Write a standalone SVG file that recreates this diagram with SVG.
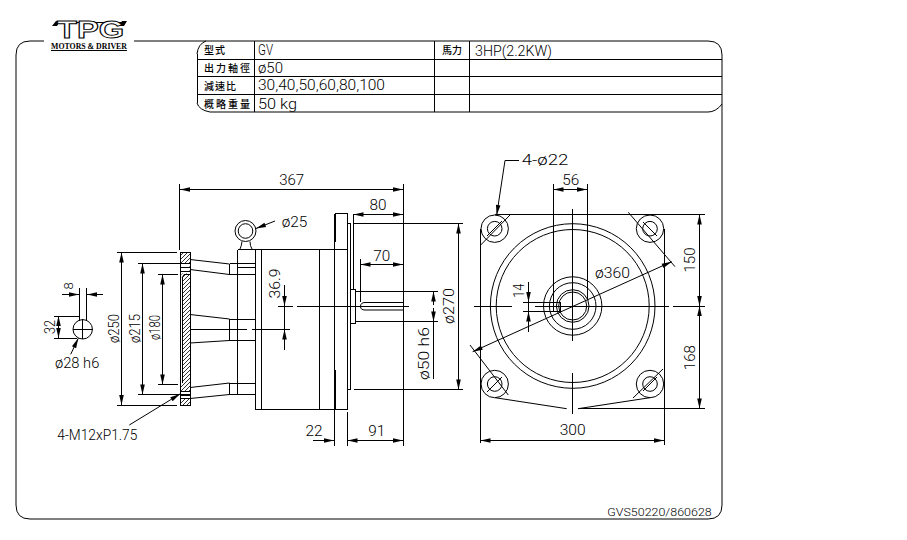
<svg xmlns="http://www.w3.org/2000/svg" width="907" height="540" viewBox="0 0 907 540">
<style>
.l{fill:none;stroke:#000;stroke-width:1;shape-rendering:crispEdges}
.c{fill:none;stroke:#000;stroke-width:1}
.t{font-family:Roboto,"Liberation Sans",Arial,sans-serif;font-weight:300;font-size:15px;fill:#000}
.m{text-anchor:middle}
.z{font-family:"Noto Sans CJK TC","Noto Sans CJK SC",sans-serif;font-size:10px;font-weight:500;fill:#000}
.d{fill:none;stroke:#000;stroke-width:1;marker-start:url(#a);marker-end:url(#a)}
.e{fill:none;stroke:#000;stroke-width:1;marker-end:url(#a)}
</style>
<defs>
<marker id="a" markerUnits="userSpaceOnUse" markerWidth="12" markerHeight="6" refX="11" refY="3" orient="auto-start-reverse"><path d="M11,3 L1,0.7 L1,5.3 z" fill="#000"/></marker>
<pattern id="hatch" patternUnits="userSpaceOnUse" width="4" height="4"><path d="M-1,5 L5,-1 M-1,1 L1,-1 M3,5 L5,3" stroke="#000" stroke-width="0.8"/></pattern>
</defs>
<rect width="907" height="540" fill="#fff"/>
<g id="frame">
<path class="c" d="M134,41 H708 Q722,41 722,55 V505 Q722,519 708,519 H30 Q16,519 16,505 V55 Q16,41 30,41 H44"/>
</g>
<g id="logo">
<path d="M52,26 L56,21 H60 L57,26 z M119,26 L122,21 H127 L124,26 z" fill="#000"/>
<path class="l" d="M58,22.5 H122"/>
<text x="57" y="38" textLength="67" lengthAdjust="spacingAndGlyphs" style="font-family:'Liberation Sans',sans-serif;font-size:23px;font-weight:700;fill:#fff;stroke:#000;stroke-width:0.9">TPG</text>
<text x="51" y="49" textLength="76" lengthAdjust="spacingAndGlyphs" style="font-family:'Liberation Serif',serif;font-size:8px;font-weight:700;fill:#000">MOTORS &amp; DRIVER</text>
<path class="l" d="M51,50.5 H127"/>
</g>
<g id="title-block">
<path class="c" d="M197,54 Q198,44 206,41 M197,103 Q199,110 210,112 H708 Q716,112 722,104"/>
<path class="l" d="M197,59.5 H722 M197,76.5 H722 M197,94.5 H722 M197,54 V103 M254.5,41 V112 M434.5,41 V112 M469.5,41 V112"/>
<text class="z" x="204" y="54" textLength="21" lengthAdjust="spacing">型式</text>
<text class="z" x="204" y="72" textLength="46" lengthAdjust="spacing">出力軸徑</text>
<text class="z" x="204" y="90" textLength="32" lengthAdjust="spacing">減速比</text>
<text class="z" x="204" y="108" textLength="46" lengthAdjust="spacing">概略重量</text>
<text class="z" x="442" y="54" textLength="20" lengthAdjust="spacing">馬力</text>
<text class="t" x="258" y="55" textLength="15" lengthAdjust="spacingAndGlyphs">GV</text>
<text class="t" x="258" y="73" textLength="25" lengthAdjust="spacingAndGlyphs">ø50</text>
<text class="t" x="258" y="90" textLength="127" lengthAdjust="spacingAndGlyphs">30,40,50,60,80,100</text>
<text class="t" x="258" y="109" textLength="39" lengthAdjust="spacingAndGlyphs">50  kg</text>
<text class="t" x="475" y="56" textLength="77" lengthAdjust="spacingAndGlyphs">3HP(2.2KW)</text>
</g>
<g id="side-view">
<rect x="180" y="252.5" width="10" height="152.5" fill="url(#hatch)" stroke="none"/>
<rect x="180.5" y="263.5" width="9" height="10" fill="#fff" stroke="none"/>
<rect x="180.5" y="391.5" width="9" height="7" fill="#fff" stroke="none"/>
<rect x="180" y="274.5" width="2" height="109" fill="#fff" stroke="none"/>
<path class="l" d="M180,252.5 H190 V405 H180 V252.5 M180,263.5 H190 M180,267.5 H190 M180,271 H190 M184,274.5 H190 M182,278 V383 M180,391.5 H190 M180,395.5 H190 M180,398.5 H190"/>
<path class="c" d="M182,278 L184,274.5"/>
<path class="c" d="M190,259.5 L229.5,264 M190,269.5 L229.5,274.5 M190,314.5 L229.5,319 M190,343 L229.5,340.5 M190,387.5 L229.5,383 M190,398.5 L229.5,394.5"/>
<path class="l" d="M229.5,264 V274.5 M229.5,319 V340.5 M229.5,383 V394.5 M229.5,263.5 H255 M229.5,274.5 H255 M229.5,319 H255 M229.5,340.5 H255 M229.5,383 H255 M229.5,394.5 H255 M237.5,267.5 H255"/>
<path class="l" d="M237.5,249.5 H347.5 M237.5,249.5 V394.5 M255.5,249.5 V409.5 H347.5 M261.5,249.5 V409.5 M319.5,249.5 V409.5"/>
<path class="l" d="M334.5,213.5 H347.5 V409.5 M334.5,213.5 V446 M335.5,213.5 V242 M335.5,370 V409.5"/>
<path class="l" d="M347.5,223.5 H350.5 V389.5 H347.5 M350.5,289.5 H355.5 V323.5 H350.5"/>
<path class="l" d="M355.5,291.5 H438 M355.5,321.5 H438"/>
<path class="c" d="M403.5,310 H365 Q360.5,310 360.5,306.5 Q360.5,302.5 365,302.5 H403.5"/>
<circle class="c" cx="245.5" cy="231" r="10.5"/>
<circle class="c" cx="245.5" cy="231" r="7.3"/>
<path class="c" d="M242,241.5 Q241.5,246 240,249 M250,241.5 Q250,246 252,249"/>
<path class="l" d="M190,329.5 H247 M252,329.5 H290 M278,306.5 H293 M297,306.5 H409"/>
<circle class="c" cx="82.7" cy="329.3" r="9.7"/>
<path class="l" d="M79.5,288 V320.5 M86.5,288 V320.5 M73,329.5 H93 M82.5,319 V339"/>
</g>
<g id="front-view">
<path class="l" d="M495,214.5 H705 M480.5,229 V443 M664.5,229 V445 M578,408.5 H705"/>
<path class="c" d="M495,397.7 L566.7,408.7 M578,408.7 L650,397.7 M480.7,245 L510,215 M628.3,212.3 L675,266.7 M470,345 L508.3,395 M633,398 L663,369 M487,236 L502,221 M643,222 L657,236 M487,392 L502,377 M643,391 L657,377"/>
<circle class="c" cx="494.7" cy="228.7" r="13.7"/><circle class="c" cx="494.7" cy="228.7" r="7.3"/>
<circle class="c" cx="650" cy="228.7" r="13.7"/><circle class="c" cx="650" cy="228.7" r="7.3"/>
<circle class="c" cx="494.7" cy="384" r="13.7"/><circle class="c" cx="494.7" cy="384" r="7.3"/>
<circle class="c" cx="650" cy="384" r="13.7"/><circle class="c" cx="650" cy="384" r="7.3"/>
<circle class="c" cx="572.7" cy="306" r="82.3"/><circle class="c" cx="572.7" cy="306" r="76.5"/>
<circle class="c" cx="572.7" cy="306" r="29.2"/><circle class="c" cx="572.7" cy="306" r="23.3"/>
<circle class="c" cx="572.7" cy="306" r="16.3"/><circle class="c" cx="572.7" cy="306" r="14"/>
<rect class="l" x="553.5" y="302.5" width="7" height="9"/>
<path class="l" d="M572.5,209 V341 M572.5,372.7 V414 M474,306.5 H511.7 M535,306.5 H669 M672.7,306.5 H705"/>
</g>
<g id="connectors">
<path class="l" d="M179.5,184 V250 M403.5,184 V446 M117,252.5 H177 M117,405 H177 M138,263.5 H190 M138,394.5 H190 M158,274.5 H178 M158,384.5 H178 M353.5,214 V289 M353.5,223.5 H463 M353.5,389.5 H463 M360.5,259 V302 M347.5,412 V446 M54,316 H79 M54,338.5 H77 M553.5,184 V302 M587.5,184 V300 M523,302.5 H555 M523,311.5 H555 M505,160.5 H519 M284.5,285 V350 M433.5,321 V379 M528.5,281.7 V331.7"/>
<path class="d" d="M180,189.5 H403"/>
<path class="d" d="M353.5,214.5 H403"/>
<path class="d" d="M360.5,264.5 H403"/>
<path class="d" d="M458.5,223.5 V389.5"/>
<path class="d" d="M121.5,252.5 V405"/>
<path class="d" d="M142.5,263.5 V394.5"/>
<path class="d" d="M162.5,274.5 V384.5"/>
<path class="d" d="M553.5,189.5 H587"/>
<path class="d" d="M480.5,440.5 H664"/>
<path class="d" d="M699.5,214.5 V306"/>
<path class="d" d="M699.5,306 V408.5"/>
<path class="d" d="M472.7,351.7 L671.7,261.7"/>
<path class="d" d="M347.5,440.5 H403"/>
<path class="e" d="M313,440.5 H334"/>
<path class="e" d="M433.5,305 V291.5"/>
<path class="e" d="M433.5,308 V321.5"/>
<path class="e" d="M284.5,290 V306"/>
<path class="e" d="M284.5,345 V329.5"/>
<path class="e" d="M58.5,327 V316"/>
<path class="e" d="M58.5,327 V338"/>
<path class="e" d="M62,294.5 H79"/>
<path class="e" d="M103,294.5 H87"/>
<path class="e" d="M528.5,284 V302"/>
<path class="e" d="M528.5,329 V311.5"/>
<path class="e" d="M70.7,354.3 L78.3,338.3"/>
<path class="e" d="M129.3,425 L180,394"/>
<path class="e" d="M505,160.5 L496.7,215"/>
<path class="e" d="M275,221 L256,228.5"/>
</g>
<g id="labels">
<text class="t m" x="291.7" y="185" textLength="25" lengthAdjust="spacingAndGlyphs">367</text>
<text class="t m" x="378" y="210" textLength="17" lengthAdjust="spacingAndGlyphs">80</text>
<text class="t m" x="381.7" y="261" textLength="17" lengthAdjust="spacingAndGlyphs">70</text>
<text class="t" x="281.7" y="227" textLength="25.6" lengthAdjust="spacingAndGlyphs">ø25</text>
<text class="t" transform="translate(279.5,298.5) rotate(-90)" textLength="30" lengthAdjust="spacingAndGlyphs">36.9</text>
<text class="t m" x="314" y="436" textLength="17" lengthAdjust="spacingAndGlyphs">22</text>
<text class="t m" x="376.7" y="436" textLength="17" lengthAdjust="spacingAndGlyphs">91</text>
<text class="t" transform="translate(429,380) rotate(-90)" textLength="53" lengthAdjust="spacingAndGlyphs">ø50 h6</text>
<text class="t" transform="translate(454,324) rotate(-90)" textLength="36" lengthAdjust="spacingAndGlyphs">ø270</text>
<text class="t" transform="translate(119,343) rotate(-90)" textLength="29" lengthAdjust="spacingAndGlyphs">ø250</text>
<text class="t" transform="translate(140,343) rotate(-90)" textLength="29" lengthAdjust="spacingAndGlyphs">ø215</text>
<text class="t" transform="translate(160,340) rotate(-90)" textLength="25" lengthAdjust="spacingAndGlyphs">ø180</text>
<text class="t" transform="translate(55,334) rotate(-90)" textLength="14" lengthAdjust="spacingAndGlyphs">32</text>
<text class="t m" transform="translate(72.5,286) rotate(-90)" style="font-size:13px">8</text>
<text class="t" x="55" y="368" textLength="44.3" lengthAdjust="spacingAndGlyphs">ø28 h6</text>
<text class="t" x="57.3" y="440" textLength="80" lengthAdjust="spacingAndGlyphs">4-M12xP1.75</text>
<text class="t" x="521.7" y="165" textLength="46.6" lengthAdjust="spacingAndGlyphs">4-ø22</text>
<text class="t m" x="570.7" y="185" textLength="17" lengthAdjust="spacingAndGlyphs">56</text>
<text class="t" x="595" y="278" textLength="35" lengthAdjust="spacingAndGlyphs">ø360</text>
<text class="t m" transform="translate(524,290.7) rotate(-90)" textLength="14" lengthAdjust="spacingAndGlyphs">14</text>
<text class="t m" transform="translate(695,260) rotate(-90)" textLength="25" lengthAdjust="spacingAndGlyphs">150</text>
<text class="t m" transform="translate(695,357.7) rotate(-90)" textLength="25" lengthAdjust="spacingAndGlyphs">168</text>
<text class="t m" x="572.7" y="435" textLength="26" lengthAdjust="spacingAndGlyphs">300</text>
<text class="t" x="607.3" y="515.5" textLength="104.4" lengthAdjust="spacingAndGlyphs" style="font-size:11px">GVS50220/860628</text>
</g>
</svg>
